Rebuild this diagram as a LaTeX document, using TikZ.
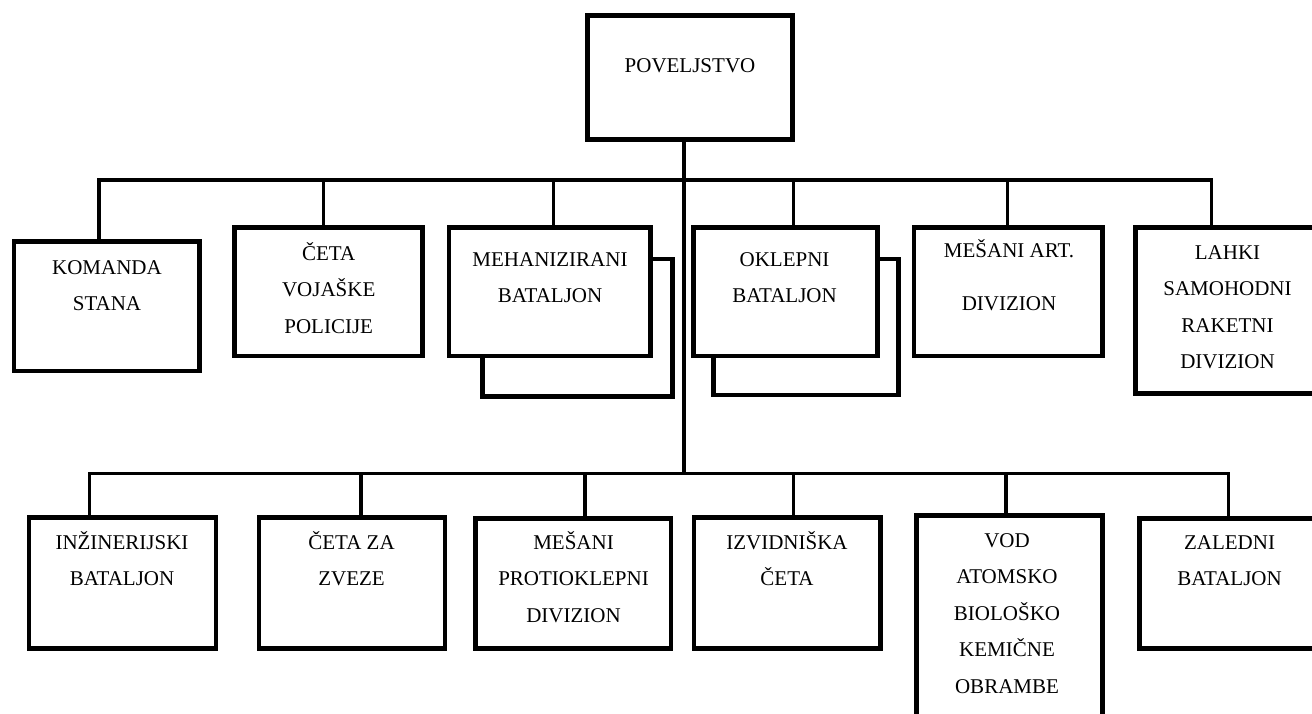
\documentclass[tikz,border=0pt]{standalone}
\usepackage{fontspec}
\setmainfont{Liberation Serif}
\newcommand{\fl}{\rule{0pt}{20pt}}

\begin{document}
\begin{tikzpicture}[x=1pt,y=-1pt,
  unit/.style={shape=rectangle,draw=black,line width=4.6pt,inner sep=0pt},
  txt/.style={anchor=north,align=center,inner sep=0pt,font=\fontsize{21}{36.5}\selectfont},
  conn/.style={draw=black,line width=3.2pt},
  shadow/.style={draw=black,line width=4.6pt}]
\useasboundingbox (0,0) rectangle (1312,713);
\clip (0,0) rectangle (1312,713);

\coordinate (s1) at (99,180);
\coordinate (s2) at (323.3,180);
\coordinate (s3) at (553.3,180);
\coordinate (s4) at (793.3,180);
\coordinate (s5) at (1007.7,180);
\coordinate (s6) at (1211.7,180);
\coordinate (b0) at (684,473.3);
\coordinate (b1) at (89.3,473.3);
\coordinate (b2) at (361,473.3);
\coordinate (b3) at (585,473.3);
\coordinate (b4) at (793.3,473.3);
\coordinate (b5) at (1006,473.3);
\coordinate (b6) at (1228.7,473.3);

\node[unit,minimum width=205.4pt,minimum height=123.8pt] (pov) at (690,77.5) {};
\node[txt] (povt) at (690,52) {\fl POVELJSTVO};

\node[unit,minimum width=185.4pt,minimum height=129.4pt] (komanda) at (106.7,306.3) {};
\node[unit,minimum width=188.1pt,minimum height=128.7pt] (ceta) at (328.7,291.7) {};
\node[unit,minimum width=201.4pt,minimum height=128.7pt] (meh) at (549.7,291.7) {};
\node[unit,minimum width=184.1pt,minimum height=128.7pt] (okl) at (785.6,291.7) {};
\node[unit,minimum width=188.7pt,minimum height=128.7pt] (art) at (1008.3,291.7) {};
\node[unit,minimum width=183.8pt,minimum height=166.4pt] (lahki) at (1227.5,310.5) {};

\draw[shadow] ([yshift=-34pt]meh.north east) -| ([xshift=20pt,yshift=-38.4pt]meh.south east) -| ([xshift=36pt]meh.south west);
\draw[shadow] ([yshift=-34pt]okl.north east) -| ([xshift=18.3pt,yshift=-36.7pt]okl.south east) -| ([xshift=22pt]okl.south west);

\node[txt] (komandat) at (107,254) {\fl KOMANDA\\STANA};
\node[txt] (cetat) at (328.7,240) {\fl ČETA\\VOJAŠKE\\POLICIJE};
\node[txt] (meht) at (550,246) {\fl MEHANIZIRANI\\BATALJON};
\node[txt] (oklt) at (784.5,246) {\fl OKLEPNI\\BATALJON};
\node[txt] (artt) at (1009,237) {\fl MEŠANI ART.\\[16.5pt]DIVIZION};
\node[txt] (lahkit) at (1227.5,239) {\fl LAHKI\\SAMOHODNI\\RAKETNI\\DIVIZION};

\node[unit,minimum width=187pt,minimum height=131.1pt] (inz) at (122.5,582.9) {};
\node[unit,minimum width=186pt,minimum height=131.1pt] (cetazv) at (352,582.9) {};
\node[unit,minimum width=195.4pt,minimum height=130.1pt] (mes) at (573.3,583.4) {};
\node[unit,minimum width=186.4pt,minimum height=131pt] (izv) at (787.2,583) {};
\node[unit,minimum width=186.4pt,minimum height=284.4pt] (vod) at (1009.5,657.8) {};
\node[unit,minimum width=180.4pt,minimum height=130.1pt] (zal) at (1229.5,583.4) {};

\node[txt] (inzt) at (122,529) {\fl INŽINERIJSKI\\BATALJON};
\node[txt] (cetazvt) at (351.5,529) {\fl ČETA ZA\\ZVEZE};
\node[txt] (mest) at (573.5,529) {\fl MEŠANI\\PROTIOKLEPNI\\DIVIZION};
\node[txt] (izvt) at (787,529) {\fl IZVIDNIŠKA\\ČETA};
\node[txt] (vodt) at (1007,527) {\fl VOD\\ATOMSKO\\BIOLOŠKO\\KEMIČNE\\OBRAMBE};
\node[txt] (zalt) at (1229.5,529) {\fl ZALEDNI\\BATALJON};

% connectors
\draw[conn] (pov.south -| b0) -- (b0);
\draw[conn] (s1 |- komanda.north) -- (s1) -- (s6) -- (s6 |- lahki.north);
\draw[conn] (s2) -- (s2 |- ceta.north);
\draw[conn] (s3) -- (s3 |- meh.north);
\draw[conn] (s4) -- (s4 |- okl.north);
\draw[conn] (s5) -- (s5 |- art.north);
\draw[conn] (b1 |- inz.north) -- (b1) -- (b6) -- (b6 |- zal.north);
\draw[conn] (b2) -- (b2 |- cetazv.north);
\draw[conn] (b3) -- (b3 |- mes.north);
\draw[conn] (b4) -- (b4 |- izv.north);
\draw[conn] (b5) -- (b5 |- vod.north);
\end{tikzpicture}
\end{document}
